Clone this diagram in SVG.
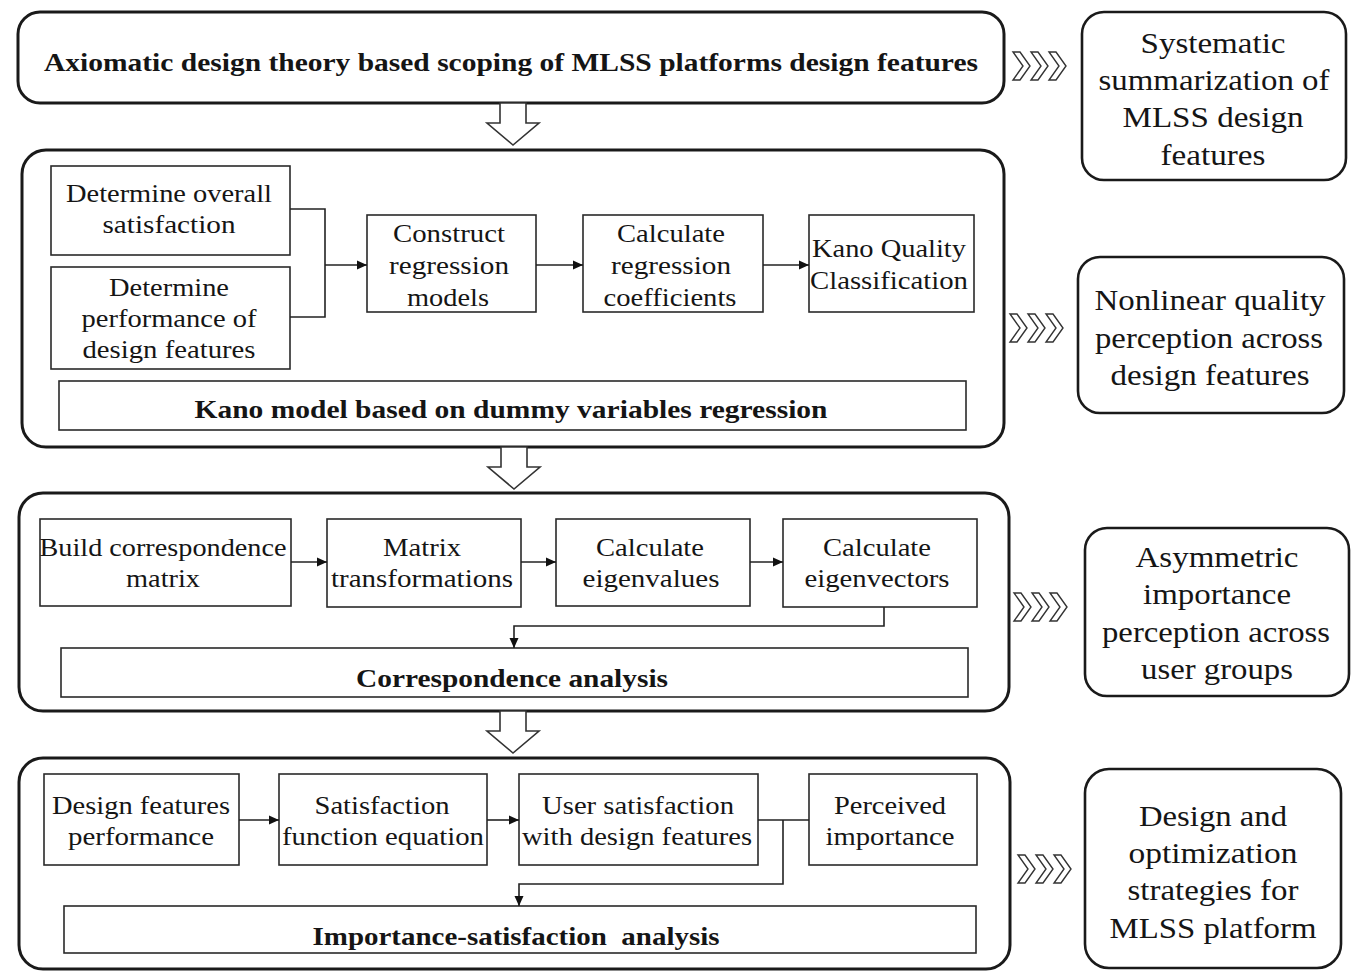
<svg xmlns="http://www.w3.org/2000/svg" width="1357" height="972" viewBox="0 0 1357 972">
<style>
.outer{fill:#fff;stroke:#1a1a1a;stroke-width:3}
.side{fill:#fff;stroke:#1a1a1a;stroke-width:2.6}
.box{fill:#fff;stroke:#2a2a2a;stroke-width:1.6}
.t{font-family:'Liberation Serif','Times New Roman',Times,serif;font-size:26px;fill:#151515;text-anchor:middle}
.s{font-family:'Liberation Serif','Times New Roman',Times,serif;font-size:29px;fill:#151515;text-anchor:middle}
.b{font-family:'Liberation Serif','Times New Roman',Times,serif;font-size:26px;font-weight:bold;fill:#151515;text-anchor:middle}
.con{fill:none;stroke:#222;stroke-width:1.6}
.chev{fill:#fff;stroke:#333;stroke-width:1.4;stroke-linejoin:miter}
.blk{fill:#fff;stroke:#333;stroke-width:1.6}
</style>
<defs>
<marker id="ah" markerUnits="userSpaceOnUse" markerWidth="10" markerHeight="10" refX="10" refY="5" orient="auto">
<path d="M0,0.5 L10,5 L0,9.5 z" fill="#111"/>
</marker>
<g id="chevs">
<polygon points="0,0 7,0 17,14 7,28 0,28 10,14"/>
<polygon points="18,0 25,0 35,14 25,28 18,28 28,14"/>
<polygon points="36,0 43,0 53,14 43,28 36,28 46,14"/>
</g>
<polygon id="down" points="13,0 39,0 39,20 52,20 26,42 0,20 13,20"/>
</defs>

<g id="stage1">
<rect class="outer" x="18" y="12" width="986" height="91" rx="22"/>
<text class="b" x="511" y="71" textLength="934" lengthAdjust="spacingAndGlyphs">Axiomatic design theory based scoping of MLSS platforms design features</text>
</g>

<g id="out1">
<rect class="side" x="1082" y="12" width="264" height="168" rx="22"/>
<text class="s" x="1213" y="53" textLength="145" lengthAdjust="spacingAndGlyphs">Systematic</text>
<text class="s" x="1214" y="90" textLength="231" lengthAdjust="spacingAndGlyphs">summarization of</text>
<text class="s" x="1213" y="127" textLength="181" lengthAdjust="spacingAndGlyphs">MLSS design</text>
<text class="s" x="1213" y="165" textLength="105" lengthAdjust="spacingAndGlyphs">features</text>
</g>

<g id="stage2">
<rect class="outer" x="22" y="150" width="982" height="297" rx="24"/>
</g>
<g id="n-overall">
<rect class="box" x="51" y="166" width="239" height="89"/>
<text class="t" x="169" y="202" textLength="206" lengthAdjust="spacingAndGlyphs">Determine overall</text>
<text class="t" x="169" y="233" textLength="133" lengthAdjust="spacingAndGlyphs">satisfaction</text>
</g>
<g id="n-perf">
<rect class="box" x="51" y="267" width="239" height="102"/>
<text class="t" x="169" y="296" textLength="120" lengthAdjust="spacingAndGlyphs">Determine</text>
<text class="t" x="169" y="327" textLength="175" lengthAdjust="spacingAndGlyphs">performance of</text>
<text class="t" x="169" y="358" textLength="173" lengthAdjust="spacingAndGlyphs">design features</text>
</g>
<g id="n-construct">
<rect class="box" x="367" y="215" width="169" height="97"/>
<text class="t" x="449" y="242" textLength="112" lengthAdjust="spacingAndGlyphs">Construct</text>
<text class="t" x="449" y="274" textLength="120" lengthAdjust="spacingAndGlyphs">regression</text>
<text class="t" x="448" y="306" textLength="82" lengthAdjust="spacingAndGlyphs">models</text>
</g>
<g id="n-coef">
<rect class="box" x="583" y="215" width="180" height="97"/>
<text class="t" x="671" y="242" textLength="108" lengthAdjust="spacingAndGlyphs">Calculate</text>
<text class="t" x="671" y="274" textLength="120" lengthAdjust="spacingAndGlyphs">regression</text>
<text class="t" x="670" y="306" textLength="133" lengthAdjust="spacingAndGlyphs">coefficients</text>
</g>
<g id="n-kanoq">
<rect class="box" x="809" y="215" width="165" height="97"/>
<text class="t" x="889" y="257" textLength="154" lengthAdjust="spacingAndGlyphs">Kano Quality</text>
<text class="t" x="889" y="289" textLength="158" lengthAdjust="spacingAndGlyphs">Classification</text>
</g>
<g id="n-kano">
<rect class="box" x="59" y="381" width="907" height="49"/>
<text class="b" x="511" y="418" textLength="633" lengthAdjust="spacingAndGlyphs">Kano model based on dummy variables regression</text>
</g>

<g id="out2">
<rect class="side" x="1078" y="257" width="266" height="156" rx="22"/>
<text class="s" x="1210" y="310" textLength="231" lengthAdjust="spacingAndGlyphs">Nonlinear quality</text>
<text class="s" x="1209" y="348" textLength="228" lengthAdjust="spacingAndGlyphs">perception across</text>
<text class="s" x="1210" y="385" textLength="199" lengthAdjust="spacingAndGlyphs">design features</text>
</g>

<g id="stage3">
<rect class="outer" x="19" y="493" width="990" height="218" rx="24"/>
</g>
<g id="n-build">
<rect class="box" x="40" y="519" width="251" height="87"/>
<text class="t" x="163" y="556" textLength="247" lengthAdjust="spacingAndGlyphs">Build correspondence</text>
<text class="t" x="163" y="587" textLength="74" lengthAdjust="spacingAndGlyphs">matrix</text>
</g>
<g id="n-matrix">
<rect class="box" x="327" y="519" width="194" height="88"/>
<text class="t" x="422" y="556" textLength="78" lengthAdjust="spacingAndGlyphs">Matrix</text>
<text class="t" x="422" y="587" textLength="182" lengthAdjust="spacingAndGlyphs">transformations</text>
</g>
<g id="n-eigval">
<rect class="box" x="556" y="519" width="194" height="87"/>
<text class="t" x="650" y="556" textLength="108" lengthAdjust="spacingAndGlyphs">Calculate</text>
<text class="t" x="651" y="587" textLength="137" lengthAdjust="spacingAndGlyphs">eigenvalues</text>
</g>
<g id="n-eigvec">
<rect class="box" x="783" y="519" width="194" height="88"/>
<text class="t" x="877" y="556" textLength="108" lengthAdjust="spacingAndGlyphs">Calculate</text>
<text class="t" x="877" y="587" textLength="145" lengthAdjust="spacingAndGlyphs">eigenvectors</text>
</g>
<g id="n-ca">
<rect class="box" x="61" y="648" width="907" height="49"/>
<text class="b" x="512" y="687" textLength="312" lengthAdjust="spacingAndGlyphs">Correspondence analysis</text>
</g>

<g id="out3">
<rect class="side" x="1085" y="528" width="264" height="168" rx="22"/>
<text class="s" x="1217" y="567" textLength="163" lengthAdjust="spacingAndGlyphs">Asymmetric</text>
<text class="s" x="1217" y="604" textLength="148" lengthAdjust="spacingAndGlyphs">importance</text>
<text class="s" x="1216" y="642" textLength="228" lengthAdjust="spacingAndGlyphs">perception across</text>
<text class="s" x="1217" y="679" textLength="152" lengthAdjust="spacingAndGlyphs">user groups</text>
</g>

<g id="stage4">
<rect class="outer" x="19" y="758" width="991" height="211" rx="24"/>
</g>
<g id="n-dfp">
<rect class="box" x="44" y="774" width="195" height="91"/>
<text class="t" x="141" y="814" textLength="178" lengthAdjust="spacingAndGlyphs">Design features</text>
<text class="t" x="141" y="845" textLength="146" lengthAdjust="spacingAndGlyphs">performance</text>
</g>
<g id="n-sfe">
<rect class="box" x="279" y="774" width="208" height="91"/>
<text class="t" x="382" y="814" textLength="135" lengthAdjust="spacingAndGlyphs">Satisfaction</text>
<text class="t" x="383" y="845" textLength="202" lengthAdjust="spacingAndGlyphs">function equation</text>
</g>
<g id="n-usd">
<rect class="box" x="519" y="774" width="239" height="91"/>
<text class="t" x="638" y="814" textLength="192" lengthAdjust="spacingAndGlyphs">User satisfaction</text>
<text class="t" x="637" y="845" textLength="230" lengthAdjust="spacingAndGlyphs">with design features</text>
</g>
<g id="n-pi">
<rect class="box" x="809" y="774" width="168" height="91"/>
<text class="t" x="890" y="814" textLength="112" lengthAdjust="spacingAndGlyphs">Perceived</text>
<text class="t" x="890" y="845" textLength="129" lengthAdjust="spacingAndGlyphs">importance</text>
</g>
<g id="n-isa">
<rect class="box" x="64" y="906" width="912" height="47"/>
<text class="b" x="516" y="945" textLength="407" lengthAdjust="spacingAndGlyphs" xml:space="preserve">Importance-satisfaction  analysis</text>
</g>

<g id="out4">
<rect class="side" x="1085" y="769" width="256" height="199" rx="24"/>
<text class="s" x="1213" y="826" textLength="148" lengthAdjust="spacingAndGlyphs">Design and</text>
<text class="s" x="1213" y="863" textLength="169" lengthAdjust="spacingAndGlyphs">optimization</text>
<text class="s" x="1213" y="900" textLength="171" lengthAdjust="spacingAndGlyphs">strategies for</text>
<text class="s" x="1213" y="938" textLength="207" lengthAdjust="spacingAndGlyphs">MLSS platform</text>
</g>

<g id="connectors">
<path class="con" d="M290,209 H325 V317 H290"/>
<path class="con" d="M325,265 H367" marker-end="url(#ah)"/>
<path class="con" d="M536,265 H583" marker-end="url(#ah)"/>
<path class="con" d="M763,265 H809" marker-end="url(#ah)"/>
<path class="con" d="M291,562 H327" marker-end="url(#ah)"/>
<path class="con" d="M521,562 H556" marker-end="url(#ah)"/>
<path class="con" d="M750,562 H783" marker-end="url(#ah)"/>
<path class="con" d="M884,607 V626 H514 V648" marker-end="url(#ah)"/>
<path class="con" d="M239,820 H279" marker-end="url(#ah)"/>
<path class="con" d="M487,820 H519" marker-end="url(#ah)"/>
<path class="con" d="M758,820 H809"/>
<path class="con" d="M783,820 V884 H519 V906" marker-end="url(#ah)"/>
<use href="#down" class="blk" x="487" y="103"/>
<use href="#down" class="blk" x="488" y="447"/>
<use href="#down" class="blk" x="487" y="711"/>
<use href="#chevs" class="chev" x="1013" y="52"/>
<use href="#chevs" class="chev" x="1010" y="314"/>
<use href="#chevs" class="chev" x="1014" y="593"/>
<use href="#chevs" class="chev" x="1018" y="855"/>
</g>
</svg>
